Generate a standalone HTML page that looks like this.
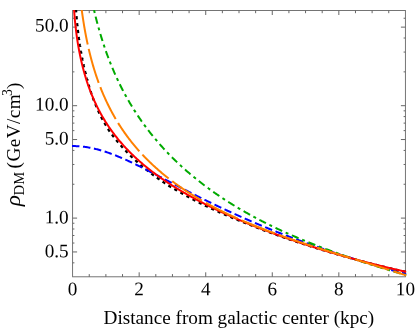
<!DOCTYPE html>
<html><head><meta charset="utf-8"><title>DM density profiles</title>
<style>
html,body{margin:0;padding:0;background:#fff;}
body{width:415px;height:329px;overflow:hidden;font-family:"Liberation Serif",serif;}
svg{display:block;will-change:transform;}
svg text{font-family:"Liberation Serif",serif;fill:#000;}
</style></head><body>
<svg width="415" height="329" viewBox="0 0 415 329">
<rect width="415" height="329" fill="#ffffff"/>
<defs><clipPath id="c"><rect x="72.00" y="10.00" width="334.50" height="267.30"/></clipPath></defs>
<rect x="72.60" y="10.50" width="332.80" height="266.30" fill="none" stroke="#666666" stroke-width="0.9"/>
<g stroke="#666666" stroke-width="1" fill="none">
<line x1="89.24" y1="276.80" x2="89.24" y2="274.10"/>
<line x1="89.24" y1="10.50" x2="89.24" y2="13.20"/>
<line x1="105.88" y1="276.80" x2="105.88" y2="274.10"/>
<line x1="105.88" y1="10.50" x2="105.88" y2="13.20"/>
<line x1="122.52" y1="276.80" x2="122.52" y2="274.10"/>
<line x1="122.52" y1="10.50" x2="122.52" y2="13.20"/>
<line x1="139.16" y1="276.80" x2="139.16" y2="272.30"/>
<line x1="139.16" y1="10.50" x2="139.16" y2="15.00"/>
<line x1="155.80" y1="276.80" x2="155.80" y2="274.10"/>
<line x1="155.80" y1="10.50" x2="155.80" y2="13.20"/>
<line x1="172.44" y1="276.80" x2="172.44" y2="274.10"/>
<line x1="172.44" y1="10.50" x2="172.44" y2="13.20"/>
<line x1="189.08" y1="276.80" x2="189.08" y2="274.10"/>
<line x1="189.08" y1="10.50" x2="189.08" y2="13.20"/>
<line x1="205.72" y1="276.80" x2="205.72" y2="272.30"/>
<line x1="205.72" y1="10.50" x2="205.72" y2="15.00"/>
<line x1="222.36" y1="276.80" x2="222.36" y2="274.10"/>
<line x1="222.36" y1="10.50" x2="222.36" y2="13.20"/>
<line x1="239.00" y1="276.80" x2="239.00" y2="274.10"/>
<line x1="239.00" y1="10.50" x2="239.00" y2="13.20"/>
<line x1="255.64" y1="276.80" x2="255.64" y2="274.10"/>
<line x1="255.64" y1="10.50" x2="255.64" y2="13.20"/>
<line x1="272.28" y1="276.80" x2="272.28" y2="272.30"/>
<line x1="272.28" y1="10.50" x2="272.28" y2="15.00"/>
<line x1="288.92" y1="276.80" x2="288.92" y2="274.10"/>
<line x1="288.92" y1="10.50" x2="288.92" y2="13.20"/>
<line x1="305.56" y1="276.80" x2="305.56" y2="274.10"/>
<line x1="305.56" y1="10.50" x2="305.56" y2="13.20"/>
<line x1="322.20" y1="276.80" x2="322.20" y2="274.10"/>
<line x1="322.20" y1="10.50" x2="322.20" y2="13.20"/>
<line x1="338.84" y1="276.80" x2="338.84" y2="272.30"/>
<line x1="338.84" y1="10.50" x2="338.84" y2="15.00"/>
<line x1="355.48" y1="276.80" x2="355.48" y2="274.10"/>
<line x1="355.48" y1="10.50" x2="355.48" y2="13.20"/>
<line x1="372.12" y1="276.80" x2="372.12" y2="274.10"/>
<line x1="372.12" y1="10.50" x2="372.12" y2="13.20"/>
<line x1="388.76" y1="276.80" x2="388.76" y2="274.10"/>
<line x1="388.76" y1="10.50" x2="388.76" y2="13.20"/>
<line x1="72.60" y1="251.94" x2="77.10" y2="251.94"/>
<line x1="405.40" y1="251.94" x2="400.90" y2="251.94"/>
<line x1="72.60" y1="218.10" x2="77.10" y2="218.10"/>
<line x1="405.40" y1="218.10" x2="400.90" y2="218.10"/>
<line x1="72.60" y1="139.54" x2="77.10" y2="139.54"/>
<line x1="405.40" y1="139.54" x2="400.90" y2="139.54"/>
<line x1="72.60" y1="105.70" x2="77.10" y2="105.70"/>
<line x1="405.40" y1="105.70" x2="400.90" y2="105.70"/>
<line x1="72.60" y1="27.14" x2="77.10" y2="27.14"/>
<line x1="405.40" y1="27.14" x2="400.90" y2="27.14"/>
<line x1="72.60" y1="262.83" x2="74.40" y2="262.83"/>
<line x1="405.40" y1="262.83" x2="403.60" y2="262.83"/>
<line x1="72.60" y1="243.04" x2="74.40" y2="243.04"/>
<line x1="405.40" y1="243.04" x2="403.60" y2="243.04"/>
<line x1="72.60" y1="235.51" x2="74.40" y2="235.51"/>
<line x1="405.40" y1="235.51" x2="403.60" y2="235.51"/>
<line x1="72.60" y1="228.99" x2="74.40" y2="228.99"/>
<line x1="405.40" y1="228.99" x2="403.60" y2="228.99"/>
<line x1="72.60" y1="223.24" x2="74.40" y2="223.24"/>
<line x1="405.40" y1="223.24" x2="403.60" y2="223.24"/>
<line x1="72.60" y1="184.26" x2="74.40" y2="184.26"/>
<line x1="405.40" y1="184.26" x2="403.60" y2="184.26"/>
<line x1="72.60" y1="164.47" x2="74.40" y2="164.47"/>
<line x1="405.40" y1="164.47" x2="403.60" y2="164.47"/>
<line x1="72.60" y1="150.43" x2="74.40" y2="150.43"/>
<line x1="405.40" y1="150.43" x2="403.60" y2="150.43"/>
<line x1="72.60" y1="130.64" x2="74.40" y2="130.64"/>
<line x1="405.40" y1="130.64" x2="403.60" y2="130.64"/>
<line x1="72.60" y1="123.11" x2="74.40" y2="123.11"/>
<line x1="405.40" y1="123.11" x2="403.60" y2="123.11"/>
<line x1="72.60" y1="116.59" x2="74.40" y2="116.59"/>
<line x1="405.40" y1="116.59" x2="403.60" y2="116.59"/>
<line x1="72.60" y1="110.84" x2="74.40" y2="110.84"/>
<line x1="405.40" y1="110.84" x2="403.60" y2="110.84"/>
<line x1="72.60" y1="71.86" x2="74.40" y2="71.86"/>
<line x1="405.40" y1="71.86" x2="403.60" y2="71.86"/>
<line x1="72.60" y1="52.07" x2="74.40" y2="52.07"/>
<line x1="405.40" y1="52.07" x2="403.60" y2="52.07"/>
<line x1="72.60" y1="38.03" x2="74.40" y2="38.03"/>
<line x1="405.40" y1="38.03" x2="403.60" y2="38.03"/>
<line x1="72.60" y1="18.24" x2="74.40" y2="18.24"/>
<line x1="405.40" y1="18.24" x2="403.60" y2="18.24"/>
</g>
<g clip-path="url(#c)" stroke-linecap="butt" stroke-linejoin="round">
<path d="M75.69,3.74 L75.73,4.45 L75.77,5.14 L75.81,5.82 L75.85,6.47 L75.89,7.12 L75.93,7.75 L75.97,8.36 L76.01,8.96 L76.05,9.55 L76.09,10.13 L76.13,10.69 L76.16,11.25 L76.20,11.79 L76.24,12.33 L76.28,12.86 L76.31,13.38 L76.35,13.88 L76.39,14.39 L76.42,14.88 L76.46,15.37 L76.50,15.84 L76.54,16.32 L76.57,16.78 L76.61,17.24 L76.65,17.70 L76.69,18.14 L76.72,18.58 L76.76,19.02 L76.80,19.45 L76.84,19.88 L76.87,20.30 L76.91,20.71 L76.95,21.12 L76.99,21.53 L77.03,21.93 L77.06,22.33 L77.10,22.72 L77.14,23.11 L77.18,23.49 L77.21,23.87 L77.25,24.25 L77.29,24.63 L77.33,25.00 L77.37,25.36 L77.40,25.73 L77.44,26.08 L77.48,26.44 L77.52,26.79 L77.56,27.15 L77.59,27.49 L77.63,27.84 L77.67,28.18 L77.71,28.52 L77.75,28.85 L77.78,29.19 L77.82,29.52 L77.86,29.84 L77.90,30.17 L77.94,30.49 L77.97,30.81 L78.01,31.13 L78.05,31.45 L78.09,31.76 L78.12,32.07 L78.16,32.38 L78.20,32.69 L78.24,32.99 L78.28,33.29 L78.31,33.59 L78.35,33.89 L78.39,34.19 L78.43,34.48 L78.46,34.77 L78.50,35.06 L78.54,35.35 L78.58,35.64 L78.62,35.93 L78.65,36.21 L78.69,36.49 L78.73,36.77 L78.77,37.05 L78.81,37.32 L78.84,37.60 L78.88,37.87 L78.92,38.14 L78.96,38.41 L79.00,38.68 L79.03,38.95 L79.07,39.21 L79.11,39.48 L79.15,39.74 L79.19,40.00 L79.22,40.26 L79.26,40.52 L79.30,40.77 L79.34,41.03 L79.38,41.28 L79.41,41.54 L79.45,41.79 L79.49,42.04 L79.53,42.29 L79.57,42.53 L79.60,42.78 L79.64,43.02 L79.68,43.27 L79.72,43.51 L79.76,43.75 L79.79,43.99 L79.83,44.23 L79.87,44.47 L79.91,44.71 L79.94,44.94 L79.98,45.18 L80.01,45.41 L80.05,45.64 L80.08,45.88 L80.12,46.11 L80.16,46.34 L80.19,46.56 L80.23,46.79 L80.26,47.02 L80.30,47.24 L80.33,47.47 L80.37,47.69 L80.40,47.91 L80.44,48.14 L80.47,48.36 L80.51,48.58 L80.54,48.79 L80.58,49.01 L80.62,49.23 L80.65,49.45 L80.69,49.66 L80.72,49.87 L80.76,50.09 L80.79,50.30 L80.83,50.51 L80.86,50.72 L80.90,50.93 L80.94,51.14 L80.97,51.35 L81.01,51.56 L81.04,51.76 L81.08,51.97 L81.11,52.18 L81.15,52.38 L81.19,52.58 L81.22,52.79 L81.26,52.99 L81.29,53.19 L81.33,53.39 L81.36,53.59 L81.40,53.79 L81.44,53.99 L81.47,54.18 L81.51,54.38 L81.54,54.58 L81.58,54.77 L81.62,54.97 L81.65,55.16 L81.69,55.35 L81.72,55.55 L81.76,55.74 L81.80,55.93 L81.83,56.12 L81.87,56.31 L81.90,56.50 L81.94,56.69 L81.98,56.87 L82.01,57.06 L82.05,57.25 L82.08,57.43 L82.12,57.62 L82.16,57.80 L82.19,57.99 L82.23,58.17 L82.26,58.35 L82.30,58.54 L82.34,58.72 L82.37,58.90 L82.41,59.08 L82.45,59.26 L82.48,59.44 L82.52,59.62 L82.55,59.79 L82.59,59.97 L82.62,60.15 L82.66,60.33 L82.70,60.50 L82.73,60.68 L82.77,60.85 L82.80,61.03 L82.84,61.20 L82.87,61.37 L82.91,61.55 L82.94,61.72 L82.98,61.89 L83.02,62.06 L83.05,62.23 L83.09,62.40 L83.12,62.57 L83.16,62.74 L83.19,62.91 L83.23,63.08 L83.27,63.24 L83.30,63.41 L83.34,63.58 L83.37,63.74 L83.41,63.91 L83.44,64.08 L83.48,64.24 L83.52,64.40 L83.55,64.57 L83.59,64.73 L83.62,64.89 L83.66,65.06 L83.69,65.22 L83.73,65.38 L83.77,65.54 L83.80,65.70 L83.84,65.86 L83.87,66.02 L83.91,66.18 L83.95,66.34 L83.98,66.50 L84.02,66.65 L84.05,66.81 L84.09,66.97 L84.13,67.12 L84.16,67.28 L84.20,67.44 L84.23,67.59 L84.27,67.75 L84.31,67.90 L84.34,68.05 L84.38,68.21 L84.41,68.36 L84.45,68.51 L84.49,68.67 L84.52,68.82 L84.56,68.97 L84.59,69.12 L84.63,69.27 L84.67,69.42 L84.70,69.57 L84.74,69.72 L84.77,69.87 L84.81,70.02 L84.85,70.17 L84.88,70.32 L84.92,70.46 L84.96,70.61 L84.99,70.76 L85.03,70.91 L85.06,71.05 L85.10,71.20 L85.14,71.34 L85.17,71.49 L85.21,71.63 L85.24,71.78 L85.28,71.92 L85.31,72.07 L85.35,72.21 L85.38,72.35 L85.42,72.50 L85.45,72.64 L85.49,72.78 L85.52,72.92 L85.56,73.07 L85.59,73.21 L85.63,73.35 L85.66,73.49 L85.70,73.63 L85.73,73.77 L85.76,73.91 L85.80,74.05 L85.83,74.19 L85.87,74.33 L85.90,74.47 L85.94,74.60 L85.97,74.74 L86.01,74.88 L86.04,75.02 L86.08,75.15 L86.11,75.29 L86.15,75.43 L86.18,75.56 L86.22,75.70 L86.25,75.83 L86.29,75.97 L86.32,76.10 L86.36,76.24 L86.39,76.37 L86.43,76.50 L86.46,76.64 L86.50,76.77 L86.53,76.90 L86.57,77.04 L86.60,77.17 L86.64,77.30 L86.67,77.43 L86.71,77.56 L86.74,77.70 L86.78,77.83 L86.81,77.96 L86.85,78.09 L86.88,78.22 L86.92,78.35 L86.95,78.48 L86.99,78.61 L87.03,78.73 L87.06,78.86 L87.10,78.99 L87.13,79.12 L87.17,79.25 L87.20,79.38 L87.24,79.50 L87.27,79.63 L87.31,79.76 L87.34,79.88 L87.37,80.01 L87.40,80.14 L87.44,80.26 L87.47,80.39 L87.50,80.52 L87.54,80.64 L87.57,80.77 L87.60,80.89 L87.63,81.02 L87.67,81.14 L87.70,81.27 L87.73,81.39 L87.77,81.52 L87.80,81.64 L87.83,81.76 L87.86,81.89 L87.90,82.01 L87.93,82.13 L87.96,82.26 L88.00,82.38 L88.03,82.50 L88.06,82.62 L88.10,82.74 L88.13,82.86 L88.16,82.99 L88.19,83.11 L88.23,83.23 L88.26,83.35 L88.29,83.47 L88.33,83.59 L88.36,83.71 L88.39,83.83 L88.43,83.95 L88.46,84.07 L88.49,84.18 L88.53,84.30 L88.56,84.42 L88.59,84.54 L88.63,84.66 L88.66,84.78 L88.69,84.89 L88.73,85.01 L88.76,85.13 L88.79,85.24 L88.83,85.36 L88.86,85.48 L88.89,85.59 L88.93,85.71 L88.96,85.83 L88.99,85.94 L89.03,86.06 L89.06,86.17 L89.09,86.29 L89.13,86.40 L89.16,86.52 L89.19,86.63 L89.23,86.74 L89.26,86.86 L89.30,86.97 L89.33,87.09 L89.36,87.20 L89.40,87.31 L89.43,87.42 L89.46,87.54 L89.50,87.65 L89.53,87.76 L89.56,87.87 L89.60,87.99 L89.63,88.10 L89.67,88.21 L89.70,88.32 L89.73,88.43 L89.77,88.54 L89.80,88.65 L89.83,88.76 L89.87,88.87 L89.90,88.98 L89.94,89.09 L89.97,89.20 L90.00,89.31 L90.04,89.42 L90.07,89.53 L90.10,89.64 L90.14,89.75 L90.17,89.86 L90.21,89.97 L90.24,90.08 L90.27,90.18 L90.31,90.29 L90.34,90.40 L90.38,90.51 L90.41,90.61 L90.44,90.72 L90.48,90.83 L90.51,90.94 L90.55,91.04 L90.58,91.15 L90.62,91.25 L90.65,91.36 L90.68,91.47 L90.72,91.57 L90.75,91.68 L90.79,91.78 L90.82,91.89 L90.85,91.99 L90.89,92.10 L90.92,92.20 L90.96,92.31 L90.99,92.41 L91.03,92.52 L91.06,92.62 L91.09,92.72 L91.13,92.83 L91.16,92.93 L91.20,93.03 L91.23,93.14 L91.27,93.24 L91.30,93.34 L91.33,93.45 L91.37,93.55 L91.40,93.65 L91.44,93.75 L91.47,93.86 L91.51,93.96 L91.54,94.06 L91.58,94.16 L91.61,94.26 L91.64,94.36 L91.68,94.47 L91.71,94.57 L91.75,94.67 L91.78,94.77 L91.82,94.87 L91.85,94.97 L91.89,95.07 L91.92,95.17 L91.96,95.27 L91.99,95.37 L92.02,95.47 L92.06,95.57 L92.09,95.67 L92.13,95.77 L92.16,95.86 L92.20,95.96 L92.23,96.06 L92.27,96.16 L92.30,96.26 L92.34,96.36 L92.37,96.45 L92.41,96.55 L92.44,96.65 L92.47,96.75 L93.02,98.27 L93.57,99.75 L94.12,101.20 L94.68,102.61 L95.24,104.00 L95.80,105.36 L96.36,106.70 L96.92,108.00 L97.49,109.28 L98.05,110.54 L98.62,111.78 L99.19,112.99 L99.77,114.18 L100.34,115.35 L100.92,116.50 L101.49,117.63 L102.07,118.75 L102.65,119.84 L103.23,120.92 L103.82,121.98 L104.42,123.02 L105.01,124.04 L105.61,125.05 L106.20,126.05 L106.80,127.03 L107.39,128.00 L107.99,128.95 L108.59,129.89 L109.19,130.82 L109.81,131.72 L110.45,132.60 L111.08,133.47 L111.71,134.33 L112.35,135.18 L112.98,136.01 L113.62,136.84 L114.25,137.65 L114.89,138.46 L115.52,139.25 L116.16,140.04 L116.79,140.82 L117.42,141.58 L118.06,142.34 L118.69,143.09 L119.33,143.84 L119.96,144.57 L120.60,145.30 L121.23,146.01 L121.87,146.73 L122.50,147.43 L123.13,148.13 L123.77,148.82 L124.40,149.50 L125.04,150.17 L125.67,150.84 L126.31,151.51 L126.94,152.16 L127.57,152.81 L128.21,153.46 L128.84,154.09 L129.48,154.73 L130.11,155.35 L130.74,155.97 L131.38,156.59 L132.01,157.20 L132.65,157.80 L133.28,158.40 L133.92,159.00 L134.55,159.59 L135.18,160.17 L135.82,160.75 L136.45,161.32 L137.08,161.89 L137.72,162.46 L138.35,163.02 L138.99,163.58 L139.62,164.13 L140.26,164.67 L140.89,165.22 L141.53,165.76 L142.16,166.29 L142.80,166.82 L143.43,167.35 L144.07,167.87 L144.70,168.39 L145.33,168.90 L145.97,169.41 L146.60,169.92 L147.24,170.43 L147.87,170.93 L148.51,171.42 L149.14,171.92 L149.78,172.41 L150.41,172.90 L151.04,173.38 L151.68,173.86 L152.31,174.34 L152.95,174.81 L153.58,175.29 L154.21,175.75 L154.85,176.22 L155.48,176.68 L156.12,177.14 L156.75,177.60 L157.38,178.05 L158.02,178.51 L158.65,178.95 L159.28,179.40 L159.92,179.84 L160.55,180.29 L161.19,180.72 L161.82,181.16 L162.45,181.59 L163.09,182.02 L163.72,182.45 L164.35,182.88 L164.99,183.30 L165.62,183.72 L166.25,184.14 L166.89,184.56 L167.52,184.98 L168.15,185.39 L168.79,185.80 L169.43,186.19 L170.08,186.57 L170.72,186.95 L171.37,187.33 L172.02,187.71 L172.66,188.09 L173.31,188.46 L173.95,188.84 L174.60,189.21 L175.25,189.57 L175.89,189.94 L176.54,190.30 L177.18,190.67 L177.83,191.03 L178.47,191.39 L179.12,191.74 L179.75,192.11 L180.39,192.48 L181.02,192.85 L181.66,193.22 L182.29,193.58 L182.93,193.94 L183.56,194.30 L184.20,194.66 L184.83,195.02 L185.47,195.38 L186.10,195.73 L186.73,196.08 L187.37,196.43 L188.00,196.78 L188.64,197.13 L189.27,197.48 L189.91,197.82 L190.54,198.17 L191.18,198.51 L191.81,198.85 L192.44,199.19 L193.08,199.53 L193.71,199.86 L194.35,200.20 L194.98,200.53 L195.62,200.87 L196.25,201.20 L196.88,201.53 L197.52,201.85 L198.15,202.18 L198.79,202.51 L199.42,202.83 L200.06,203.15 L200.69,203.46 L201.33,203.78 L201.97,204.09 L202.60,204.40 L203.24,204.72 L203.88,205.03 L204.51,205.33 L205.15,205.64 L205.79,205.95 L206.42,206.25 L207.06,206.56 L207.70,206.86 L208.33,207.16 L208.97,207.46 L209.60,207.76 L210.24,208.06 L210.88,208.36 L211.51,208.65 L212.15,208.95 L212.78,209.24 L213.42,209.54 L214.06,209.83 L214.69,210.12 L215.33,210.41 L215.96,210.70 L216.60,210.98 L217.23,211.27 L217.87,211.56 L218.51,211.84 L219.14,212.13 L219.78,212.41 L220.41,212.69 L221.05,212.97 L221.68,213.25 L222.32,213.53 L222.95,213.81 L223.59,214.09 L224.22,214.36 L224.86,214.64 L225.49,214.91 L226.13,215.19 L226.76,215.46 L227.40,215.73 L228.03,216.00 L228.67,216.27 L229.30,216.54 L229.94,216.81 L230.57,217.08 L231.20,217.35 L231.84,217.62 L232.47,217.89 L233.10,218.16 L233.74,218.42 L234.37,218.69 L235.00,218.95 L235.64,219.22 L236.27,219.48 L236.90,219.75 L237.54,220.01 L238.17,220.27 L238.80,220.53 L239.43,220.79 L240.07,221.05 L240.70,221.31 L241.33,221.56 L241.97,221.82 L242.60,222.08 L243.23,222.33 L243.86,222.59 L244.50,222.84 L245.13,223.09 L245.76,223.34 L246.40,223.60 L247.03,223.85 L247.66,224.10 L248.29,224.35 L248.93,224.59 L249.56,224.84 L250.19,225.09 L250.82,225.34 L251.46,225.58 L252.09,225.83 L252.72,226.07 L253.35,226.32 L253.99,226.56 L254.62,226.80 L255.25,227.04 L255.88,227.28 L256.52,227.52 L257.15,227.76 L257.78,228.00 L258.41,228.24 L259.05,228.48 L259.68,228.72 L260.31,228.96 L260.94,229.20 L261.57,229.44 L262.20,229.67 L262.83,229.91 L263.46,230.15 L264.09,230.39 L264.72,230.62 L265.36,230.86 L265.99,231.09 L266.62,231.33 L267.25,231.56 L267.88,231.80 L268.51,232.03 L269.14,232.26 L269.77,232.49 L270.40,232.72 L271.03,232.95 L271.66,233.18 L272.29,233.41 L272.92,233.64 L273.55,233.87 L274.18,234.10 L274.81,234.32 L275.45,234.55 L276.08,234.77 L276.71,235.00 L277.34,235.22 L277.97,235.45 L278.60,235.67 L279.23,235.90 L279.86,236.12 L280.49,236.34 L281.12,236.56 L281.75,236.78 L282.38,237.00 L283.01,237.22 L283.64,237.44 L284.27,237.66 L284.90,237.88 L285.53,238.09 L286.16,238.31 L286.79,238.53 L287.42,238.74 L288.06,238.96 L288.69,239.17 L289.32,239.39 L289.95,239.60 L290.58,239.82 L291.21,240.03 L291.84,240.24 L292.47,240.45 L293.10,240.66 L293.73,240.88 L294.36,241.09 L294.99,241.30 L295.62,241.51 L296.25,241.71 L296.88,241.92 L297.51,242.13 L298.14,242.34 L298.77,242.54 L299.40,242.75 L300.03,242.96 L300.66,243.16 L301.29,243.37 L301.92,243.58 L302.55,243.78 L303.18,243.99 L303.81,244.19 L304.44,244.39 L305.07,244.60 L305.70,244.80 L306.33,245.00 L306.96,245.21 L307.59,245.41 L308.22,245.61 L308.85,245.81 L309.48,246.01 L310.11,246.21 L310.74,246.41 L311.37,246.61 L312.00,246.81 L312.63,247.00 L313.26,247.20 L313.89,247.40 L314.52,247.59 L315.15,247.79 L315.78,247.99 L316.41,248.18 L317.04,248.38 L317.67,248.57 L318.30,248.76 L318.93,248.96 L319.56,249.15 L320.19,249.34 L320.81,249.53 L321.44,249.73 L322.07,249.92 L322.70,250.11 L323.33,250.30 L323.96,250.49 L324.59,250.68 L325.22,250.86 L325.85,251.05 L326.48,251.24 L327.11,251.43 L327.74,251.62 L328.37,251.80 L329.00,251.99 L329.63,252.17 L330.26,252.36 L330.89,252.54 L331.52,252.73 L332.15,252.91 L332.78,253.10 L333.41,253.28 L334.04,253.46 L334.67,253.65 L335.30,253.83 L335.93,254.01 L336.56,254.19 L337.19,254.37 L337.82,254.55 L338.45,254.73 L339.08,254.91 L339.71,255.09 L340.33,255.27 L340.96,255.45 L341.59,255.63 L342.22,255.81 L342.85,255.99 L343.48,256.17 L344.11,256.34 L344.74,256.52 L345.37,256.70 L346.00,256.88 L346.62,257.05 L347.25,257.23 L347.88,257.40 L348.51,257.58 L349.14,257.75 L349.77,257.93 L350.40,258.10 L351.03,258.28 L351.66,258.45 L352.28,258.62 L352.91,258.80 L353.54,258.97 L354.17,259.14 L354.80,259.31 L355.43,259.48 L356.06,259.65 L356.69,259.82 L357.32,259.99 L357.95,260.16 L358.57,260.33 L359.20,260.50 L359.83,260.66 L360.46,260.83 L361.09,261.00 L361.72,261.17 L362.35,261.33 L362.98,261.50 L363.61,261.66 L364.24,261.83 L364.86,261.99 L365.49,262.16 L366.12,262.32 L366.75,262.48 L367.38,262.65 L368.01,262.81 L368.64,262.97 L369.27,263.13 L369.90,263.30 L370.53,263.46 L371.15,263.62 L371.78,263.78 L372.41,263.94 L373.04,264.10 L373.67,264.26 L374.30,264.41 L374.93,264.57 L375.56,264.73 L376.19,264.89 L376.82,265.04 L377.44,265.20 L378.07,265.36 L378.70,265.51 L379.33,265.67 L379.96,265.82 L380.59,265.98 L381.22,266.13 L381.85,266.29 L382.48,266.44 L383.10,266.59 L383.73,266.75 L384.36,266.90 L384.99,267.05 L385.62,267.20 L386.25,267.35 L386.88,267.50 L387.51,267.65 L388.14,267.80 L388.77,267.95 L389.39,268.10 L390.02,268.25 L390.65,268.40 L391.28,268.54 L391.91,268.69 L392.54,268.84 L393.17,268.99 L393.80,269.13 L394.43,269.28 L395.06,269.42 L395.68,269.57 L396.31,269.71 L396.94,269.86 L397.57,270.00 L398.20,270.14 L398.83,270.29 L399.46,270.43 L400.09,270.57 L400.72,270.71 L401.35,270.85 L401.97,270.99 L402.60,271.14 L403.23,271.28 L403.86,271.42 L404.49,271.55 L405.12,271.69 L405.75,271.83 L406.38,271.97" fill="none" stroke="#000000" stroke-width="2.2" stroke-dasharray="3.2 3.75" stroke-dashoffset="1.47"/>
<path d="M71.93,146.07 L72.77,146.07 L73.61,146.07 L74.45,146.09 L75.29,146.11 L76.13,146.14 L76.96,146.18 L77.80,146.22 L78.64,146.28 L79.48,146.34 L80.32,146.41 L81.16,146.48 L81.99,146.57 L82.83,146.66 L83.67,146.76 L84.51,146.86 L85.35,146.98 L86.18,147.10 L87.02,147.23 L87.86,147.36 L88.70,147.51 L89.54,147.66 L90.38,147.82 L91.21,147.98 L92.05,148.15 L92.89,148.33 L93.73,148.52 L94.57,148.71 L95.41,148.91 L96.24,149.11 L97.08,149.32 L97.92,149.54 L98.76,149.77 L99.60,150.00 L100.44,150.23 L101.27,150.48 L102.11,150.73 L102.95,150.98 L103.79,151.24 L104.63,151.51 L105.46,151.78 L106.30,152.06 L107.14,152.34 L107.98,152.63 L108.82,152.92 L109.66,153.22 L110.49,153.52 L111.33,153.83 L112.17,154.14 L113.01,154.46 L113.85,154.78 L114.69,155.10 L115.52,155.43 L116.36,155.77 L117.20,156.11 L118.04,156.45 L118.88,156.80 L119.71,157.15 L120.55,157.50 L121.39,157.86 L122.23,158.22 L123.07,158.59 L123.91,158.95 L124.74,159.32 L125.58,159.70 L126.42,160.08 L127.26,160.46 L128.10,160.84 L128.94,161.23 L129.77,161.62 L130.61,162.01 L131.45,162.40 L132.29,162.80 L133.13,163.20 L133.97,163.60 L134.80,164.00 L135.64,164.41 L136.48,164.82 L137.32,165.23 L138.16,165.64 L138.99,166.05 L139.83,166.46 L140.67,166.88 L141.51,167.30 L142.35,167.72 L143.19,168.14 L144.02,168.56 L144.86,168.99 L145.70,169.41 L146.54,169.84 L147.38,170.27 L148.22,170.69 L149.05,171.12 L149.89,171.55 L150.73,171.99 L151.57,172.42 L152.41,172.85 L153.25,173.28 L154.08,173.72 L154.92,174.15 L155.76,174.59 L156.60,175.03 L157.44,175.46 L158.27,175.90 L159.11,176.34 L159.95,176.77 L160.79,177.21 L161.63,177.65 L162.47,178.09 L163.30,178.53 L164.14,178.97 L164.98,179.41 L165.82,179.84 L166.66,180.28 L167.50,180.72 L168.33,181.16 L169.17,181.60 L170.01,182.04 L170.85,182.48 L171.69,182.92 L172.53,183.35 L173.36,183.79 L174.20,184.23 L175.04,184.67 L175.88,185.10 L176.72,185.54 L177.55,185.98 L178.39,186.41 L179.23,186.85 L180.07,187.28 L180.91,187.72 L181.75,188.15 L182.58,188.59 L183.42,189.02 L184.26,189.45 L185.10,189.88 L185.94,190.31 L186.78,190.74 L187.61,191.17 L188.45,191.60 L189.29,192.03 L190.13,192.46 L190.97,192.89 L191.80,193.32 L192.64,193.74 L193.48,194.17 L194.32,194.59 L195.16,195.02 L196.00,195.44 L196.83,195.86 L197.67,196.28 L198.51,196.70 L199.35,197.12 L200.19,197.54 L201.03,197.96 L201.86,198.38 L202.70,198.79 L203.54,199.21 L204.38,199.62 L205.22,200.04 L206.06,200.45 L206.89,200.86 L207.73,201.28 L208.57,201.69 L209.41,202.10 L210.25,202.50 L211.08,202.91 L211.92,203.32 L212.76,203.72 L213.60,204.13 L214.44,204.53 L215.28,204.94 L216.11,205.34 L216.95,205.74 L217.79,206.14 L218.63,206.54 L219.47,206.94 L220.31,207.33 L221.14,207.73 L221.98,208.13 L222.82,208.52 L223.66,208.91 L224.50,209.31 L225.34,209.70 L226.17,210.09 L227.01,210.48 L227.85,210.87 L228.69,211.25 L229.53,211.64 L230.36,212.03 L231.20,212.41 L232.04,212.79 L232.88,213.18 L233.72,213.56 L234.56,213.94 L235.39,214.32 L236.23,214.70 L237.07,215.07 L237.91,215.45 L238.75,215.83 L239.59,216.20 L240.42,216.57 L241.26,216.95 L242.10,217.32 L242.94,217.69 L243.78,218.06 L244.62,218.43 L245.45,218.80 L246.29,219.16 L247.13,219.53 L247.97,219.89 L248.81,220.26 L249.64,220.62 L250.48,220.98 L251.32,221.34 L252.16,221.70 L253.00,222.06 L253.84,222.42 L254.67,222.78 L255.51,223.13 L256.35,223.49 L257.19,223.84 L258.03,224.19 L258.87,224.55 L259.70,224.90 L260.54,225.25 L261.38,225.60 L262.22,225.94 L263.06,226.29 L263.89,226.64 L264.73,226.98 L265.57,227.33 L266.41,227.67 L267.25,228.01 L268.09,228.36 L268.92,228.70 L269.76,229.04 L270.60,229.38 L271.44,229.71 L272.28,230.05 L273.12,230.39 L273.95,230.72 L274.79,231.06 L275.63,231.39 L276.47,231.72 L277.31,232.06 L278.15,232.39 L278.98,232.72 L279.82,233.05 L280.66,233.37 L281.50,233.70 L282.34,234.03 L283.17,234.35 L284.01,234.68 L284.85,235.00 L285.69,235.32 L286.53,235.65 L287.37,235.97 L288.20,236.29 L289.04,236.61 L289.88,236.92 L290.72,237.24 L291.56,237.56 L292.40,237.87 L293.23,238.19 L294.07,238.50 L294.91,238.82 L295.75,239.13 L296.59,239.44 L297.43,239.75 L298.26,240.06 L299.10,240.37 L299.94,240.68 L300.78,240.99 L301.62,241.30 L302.45,241.60 L303.29,241.91 L304.13,242.21 L304.97,242.51 L305.81,242.82 L306.65,243.12 L307.48,243.42 L308.32,243.72 L309.16,244.02 L310.00,244.32 L310.84,244.62 L311.68,244.91 L312.51,245.21 L313.35,245.51 L314.19,245.80 L315.03,246.10 L315.87,246.39 L316.71,246.68 L317.54,246.97 L318.38,247.26 L319.22,247.55 L320.06,247.84 L320.90,248.13 L321.73,248.42 L322.57,248.71 L323.41,248.99 L324.25,249.28 L325.09,249.57 L325.93,249.85 L326.76,250.13 L327.60,250.42 L328.44,250.70 L329.28,250.98 L330.12,251.26 L330.96,251.54 L331.79,251.82 L332.63,252.10 L333.47,252.38 L334.31,252.65 L335.15,252.93 L335.98,253.21 L336.82,253.48 L337.66,253.76 L338.50,254.03 L339.34,254.30 L340.18,254.58 L341.01,254.85 L341.85,255.12 L342.69,255.39 L343.53,255.66 L344.37,255.93 L345.21,256.20 L346.04,256.46 L346.88,256.73 L347.72,257.00 L348.56,257.26 L349.40,257.53 L350.24,257.79 L351.07,258.06 L351.91,258.32 L352.75,258.58 L353.59,258.84 L354.43,259.10 L355.26,259.36 L356.10,259.62 L356.94,259.88 L357.78,260.14 L358.62,260.40 L359.46,260.66 L360.29,260.91 L361.13,261.17 L361.97,261.43 L362.81,261.68 L363.65,261.93 L364.49,262.19 L365.32,262.44 L366.16,262.69 L367.00,262.95 L367.84,263.20 L368.68,263.45 L369.52,263.70 L370.35,263.95 L371.19,264.20 L372.03,264.44 L372.87,264.69 L373.71,264.94 L374.54,265.19 L375.38,265.43 L376.22,265.68 L377.06,265.92 L377.90,266.17 L378.74,266.41 L379.57,266.65 L380.41,266.90 L381.25,267.14 L382.09,267.38 L382.93,267.62 L383.77,267.86 L384.60,268.10 L385.44,268.34 L386.28,268.58 L387.12,268.82 L387.96,269.05 L388.80,269.29 L389.63,269.53 L390.47,269.76 L391.31,270.00 L392.15,270.23 L392.99,270.47 L393.82,270.70 L394.66,270.93 L395.50,271.17 L396.34,271.40 L397.18,271.63 L398.02,271.86 L398.85,272.09 L399.69,272.32 L400.53,272.55 L401.37,272.78 L402.21,273.01 L403.05,273.24 L403.88,273.46 L404.72,273.69 L405.56,273.92 L406.40,274.14" fill="none" stroke="#0000ff" stroke-width="2" stroke-dasharray="7.5 3.6" stroke-dashoffset="0.01"/>
<path d="M92.57,3.44 L93.20,6.30 L93.83,9.08 L94.45,11.78 L95.08,14.41 L95.71,16.97 L96.34,19.46 L96.97,21.89 L97.60,24.26 L98.23,26.58 L98.86,28.84 L99.49,31.05 L100.12,33.21 L100.74,35.32 L101.37,37.39 L102.00,39.42 L102.63,41.41 L103.26,43.35 L103.89,45.26 L104.52,47.13 L105.15,48.97 L105.78,50.78 L106.40,52.55 L107.03,54.29 L107.66,56.00 L108.29,57.68 L108.92,59.34 L109.55,60.97 L110.18,62.57 L110.81,64.15 L111.44,65.70 L112.06,67.23 L112.69,68.73 L113.32,70.21 L113.95,71.68 L114.58,73.12 L115.21,74.54 L115.84,75.94 L116.47,77.32 L117.10,78.68 L117.72,80.03 L118.35,81.35 L118.98,82.67 L119.61,83.96 L120.24,85.24 L120.87,86.50 L121.50,87.74 L122.13,88.97 L122.76,90.19 L123.39,91.39 L124.01,92.58 L124.64,93.75 L125.27,94.92 L125.90,96.06 L126.53,97.20 L127.16,98.32 L127.79,99.43 L128.42,100.53 L129.05,101.62 L129.67,102.69 L130.30,103.76 L130.93,104.81 L131.56,105.85 L132.19,106.89 L132.82,107.91 L133.45,108.92 L134.08,109.92 L134.71,110.91 L135.33,111.90 L135.96,112.87 L136.59,113.84 L137.22,114.79 L137.85,115.74 L138.48,116.68 L139.11,117.61 L139.74,118.53 L140.37,119.44 L140.99,120.35 L141.62,121.24 L142.25,122.13 L142.88,123.01 L143.51,123.89 L144.14,124.76 L144.77,125.62 L145.40,126.47 L146.03,127.31 L146.66,128.15 L147.28,128.99 L147.91,129.81 L148.54,130.63 L149.17,131.44 L149.80,132.25 L150.43,133.05 L151.06,133.84 L151.69,134.63 L152.32,135.41 L152.94,136.19 L153.57,136.96 L154.20,137.72 L154.83,138.48 L155.46,139.23 L156.09,139.98 L156.72,140.72 L157.35,141.46 L157.98,142.19 L158.60,142.92 L159.23,143.64 L159.86,144.36 L160.49,145.07 L161.12,145.77 L161.75,146.47 L162.38,147.17 L163.01,147.86 L163.64,148.55 L164.26,149.23 L164.89,149.91 L165.52,150.59 L166.15,151.26 L166.78,151.92 L167.41,152.58 L168.04,153.24 L168.67,153.89 L169.30,154.54 L169.92,155.18 L170.55,155.82 L171.18,156.46 L171.81,157.09 L172.44,157.72 L173.07,158.34 L173.70,158.96 L174.33,159.58 L174.96,160.19 L175.59,160.80 L176.21,161.41 L176.84,162.01 L177.47,162.61 L178.10,163.21 L178.73,163.80 L179.36,164.38 L179.99,164.97 L180.62,165.55 L181.25,166.13 L181.87,166.70 L182.50,167.28 L183.13,167.84 L183.76,168.41 L184.39,168.97 L185.02,169.53 L185.65,170.08 L186.28,170.64 L186.91,171.19 L187.53,171.73 L188.16,172.28 L188.79,172.82 L189.42,173.35 L190.05,173.89 L190.68,174.42 L191.31,174.95 L191.94,175.48 L192.57,176.00 L193.19,176.52 L193.82,177.04 L194.45,177.55 L195.08,178.07 L195.71,178.58 L196.34,179.08 L196.97,179.59 L197.60,180.09 L198.23,180.59 L198.86,181.09 L199.48,181.58 L200.11,182.08 L200.74,182.57 L201.37,183.05 L202.00,183.54 L202.63,184.02 L203.26,184.50 L203.89,184.98 L204.52,185.45 L205.14,185.93 L205.77,186.40 L206.40,186.87 L207.03,187.33 L207.66,187.80 L208.29,188.26 L208.92,188.72 L209.55,189.18 L210.18,189.63 L210.80,190.08 L211.43,190.54 L212.06,190.98 L212.69,191.43 L213.32,191.88 L213.95,192.32 L214.58,192.76 L215.21,193.20 L215.84,193.64 L216.46,194.07 L217.09,194.50 L217.72,194.93 L218.35,195.36 L218.98,195.79 L219.61,196.22 L220.24,196.64 L220.87,197.06 L221.50,197.48 L222.13,197.90 L222.75,198.31 L223.38,198.73 L224.01,199.14 L224.64,199.55 L225.27,199.96 L225.90,200.37 L226.53,200.77 L227.16,201.17 L227.79,201.58 L228.41,201.98 L229.04,202.37 L229.67,202.77 L230.30,203.17 L230.93,203.56 L231.56,203.95 L232.19,204.34 L232.82,204.73 L233.45,205.12 L234.07,205.50 L234.70,205.88 L235.33,206.27 L235.96,206.65 L236.59,207.03 L237.22,207.40 L237.85,207.78 L238.48,208.15 L239.11,208.53 L239.73,208.90 L240.36,209.27 L240.99,209.64 L241.62,210.00 L242.25,210.37 L242.88,210.73 L243.51,211.09 L244.14,211.46 L244.77,211.82 L245.40,212.17 L246.02,212.53 L246.65,212.89 L247.28,213.24 L247.91,213.59 L248.54,213.94 L249.17,214.29 L249.80,214.64 L250.43,214.99 L251.06,215.34 L251.68,215.68 L252.31,216.02 L252.94,216.37 L253.57,216.71 L254.20,217.05 L254.83,217.38 L255.46,217.72 L256.09,218.06 L256.72,218.39 L257.34,218.73 L257.97,219.06 L258.60,219.39 L259.23,219.72 L259.86,220.05 L260.49,220.37 L261.12,220.70 L261.75,221.02 L262.38,221.35 L263.00,221.67 L263.63,221.99 L264.26,222.31 L264.89,222.63 L265.52,222.95 L266.15,223.27 L266.78,223.58 L267.41,223.90 L268.04,224.21 L268.67,224.52 L269.29,224.83 L269.92,225.14 L270.55,225.45 L271.18,225.76 L271.81,226.07 L272.44,226.37 L273.07,226.68 L273.70,226.98 L274.33,227.28 L274.95,227.58 L275.58,227.89 L276.21,228.19 L276.84,228.48 L277.47,228.78 L278.10,229.08 L278.73,229.37 L279.36,229.67 L279.99,229.96 L280.61,230.25 L281.24,230.55 L281.87,230.84 L282.50,231.13 L283.13,231.41 L283.76,231.70 L284.39,231.99 L285.02,232.28 L285.65,232.56 L286.27,232.84 L286.90,233.13 L287.53,233.41 L288.16,233.69 L288.79,233.97 L289.42,234.25 L290.05,234.53 L290.68,234.81 L291.31,235.08 L291.94,235.36 L292.56,235.63 L293.19,235.91 L293.82,236.18 L294.45,236.45 L295.08,236.73 L295.71,237.00 L296.34,237.27 L296.97,237.54 L297.60,237.80 L298.22,238.07 L298.85,238.34 L299.48,238.60 L300.11,238.87 L300.74,239.13 L301.37,239.40 L302.00,239.66 L302.63,239.92 L303.26,240.18 L303.88,240.44 L304.51,240.70 L305.14,240.96 L305.77,241.22 L306.40,241.48 L307.03,241.73 L307.66,241.99 L308.29,242.24 L308.92,242.50 L309.54,242.75 L310.17,243.00 L310.80,243.25 L311.43,243.51 L312.06,243.76 L312.69,244.01 L313.32,244.26 L313.95,244.50 L314.58,244.75 L315.21,245.00 L315.83,245.24 L316.46,245.49 L317.09,245.73 L317.72,245.98 L318.35,246.22 L318.98,246.47 L319.61,246.71 L320.24,246.95 L320.87,247.19 L321.49,247.43 L322.12,247.67 L322.75,247.91 L323.38,248.15 L324.01,248.38 L324.64,248.62 L325.27,248.86 L325.90,249.09 L326.53,249.33 L327.15,249.56 L327.78,249.79 L328.41,250.03 L329.04,250.26 L329.67,250.49 L330.30,250.72 L330.93,250.95 L331.56,251.18 L332.19,251.41 L332.81,251.64 L333.44,251.87 L334.07,252.10 L334.70,252.33 L335.33,252.55 L335.96,252.78 L336.59,253.00 L337.22,253.23 L337.85,253.45 L338.48,253.68 L339.10,253.90 L339.73,254.12 L340.36,254.34 L340.99,254.56 L341.62,254.79 L342.25,255.01 L342.88,255.23 L343.51,255.44 L344.14,255.66 L344.76,255.88 L345.39,256.10 L346.02,256.32 L346.65,256.53 L347.28,256.75 L347.91,256.96 L348.54,257.18 L349.17,257.39 L349.80,257.61 L350.42,257.82 L351.05,258.03 L351.68,258.25 L352.31,258.46 L352.94,258.67 L353.57,258.88 L354.20,259.09 L354.83,259.30 L355.46,259.51 L356.08,259.72 L356.71,259.93 L357.34,260.14 L357.97,260.35 L358.60,260.55 L359.23,260.76 L359.86,260.97 L360.49,261.17 L361.12,261.38 L361.75,261.58 L362.37,261.79 L363.00,261.99 L363.63,262.20 L364.26,262.40 L364.89,262.60 L365.52,262.81 L366.15,263.01 L366.78,263.21 L367.41,263.41 L368.03,263.61 L368.66,263.81 L369.29,264.01 L369.92,264.21 L370.55,264.41 L371.18,264.61 L371.81,264.81 L372.44,265.01 L373.07,265.20 L373.69,265.40 L374.32,265.60 L374.95,265.79 L375.58,265.99 L376.21,266.19 L376.84,266.38 L377.47,266.58 L378.10,266.77 L378.73,266.96 L379.35,267.16 L379.98,267.35 L380.61,267.54 L381.24,267.74 L381.87,267.93 L382.50,268.12 L383.13,268.31 L383.76,268.50 L384.39,268.69 L385.02,268.89 L385.64,269.08 L386.27,269.27 L386.90,269.46 L387.53,269.64 L388.16,269.83 L388.79,270.02 L389.42,270.21 L390.05,270.40 L390.68,270.59 L391.30,270.77 L391.93,270.96 L392.56,271.15 L393.19,271.33 L393.82,271.52 L394.45,271.70 L395.08,271.89 L395.71,272.07 L396.34,272.26 L396.96,272.44 L397.59,272.63 L398.22,272.81 L398.85,273.00 L399.48,273.18 L400.11,273.36 L400.74,273.55 L401.37,273.73 L402.00,273.91 L402.62,274.09 L403.25,274.27 L403.88,274.45 L404.51,274.64 L405.14,274.82 L405.77,275.00 L406.40,275.18" fill="none" stroke="#00aa00" stroke-width="2" stroke-dasharray="7.4 3.8 3 3.8" stroke-dashoffset="4.47"/>
<path d="M73.70,3.85 L73.74,4.56 L73.78,5.26 L73.82,5.94 L73.86,6.60 L73.90,7.24 L73.94,7.87 L73.98,8.49 L74.02,9.09 L74.06,9.69 L74.10,10.27 L74.14,10.83 L74.18,11.39 L74.22,11.94 L74.26,12.48 L74.30,13.01 L74.34,13.53 L74.38,14.04 L74.42,14.54 L74.46,15.04 L74.50,15.53 L74.54,16.01 L74.58,16.48 L74.62,16.95 L74.66,17.41 L74.70,17.87 L74.74,18.32 L74.78,18.76 L74.82,19.20 L74.86,19.63 L74.90,20.06 L74.94,20.48 L74.98,20.90 L75.02,21.31 L75.06,21.72 L75.10,22.12 L75.14,22.52 L75.18,22.92 L75.22,23.31 L75.26,23.69 L75.30,24.08 L75.34,24.45 L75.38,24.83 L75.42,25.20 L75.46,25.57 L75.50,25.94 L75.54,26.30 L75.58,26.65 L75.62,27.01 L75.66,27.36 L75.70,27.71 L75.74,28.06 L75.78,28.40 L75.82,28.74 L75.86,29.08 L75.90,29.41 L75.94,29.74 L75.98,30.07 L76.02,30.40 L76.06,30.72 L76.10,31.05 L76.14,31.37 L76.18,31.68 L76.22,32.00 L76.26,32.31 L76.30,32.62 L76.34,32.93 L76.38,33.23 L76.41,33.54 L76.45,33.84 L76.49,34.14 L76.53,34.44 L76.57,34.73 L76.61,35.03 L76.65,35.32 L76.69,35.61 L76.73,35.90 L76.77,36.18 L76.81,36.47 L76.85,36.75 L76.89,37.03 L76.93,37.31 L76.97,37.59 L77.01,37.86 L77.05,38.14 L77.09,38.41 L77.13,38.68 L77.17,38.95 L77.21,39.22 L77.25,39.49 L77.29,39.75 L77.33,40.02 L77.37,40.28 L77.41,40.54 L77.45,40.80 L77.49,41.05 L77.53,41.31 L77.57,41.57 L77.61,41.82 L77.65,42.07 L77.69,42.32 L77.73,42.57 L77.77,42.82 L77.81,43.07 L77.85,43.32 L77.89,43.56 L77.93,43.80 L77.97,44.05 L78.01,44.29 L78.05,44.53 L78.09,44.77 L78.13,45.00 L78.17,45.24 L78.21,45.48 L78.25,45.71 L78.29,45.94 L78.33,46.18 L78.37,46.41 L78.41,46.64 L78.45,46.87 L78.49,47.10 L78.53,47.32 L78.57,47.55 L78.61,47.77 L78.65,48.00 L78.69,48.22 L78.73,48.44 L78.77,48.66 L78.81,48.88 L78.85,49.10 L78.89,49.32 L78.93,49.54 L78.97,49.76 L79.01,49.97 L79.05,50.19 L79.09,50.40 L79.13,50.61 L79.17,50.82 L79.21,51.04 L79.25,51.25 L79.29,51.46 L79.33,51.66 L79.37,51.87 L79.41,52.08 L79.45,52.29 L79.49,52.49 L79.53,52.70 L79.57,52.90 L79.61,53.10 L79.65,53.31 L79.69,53.51 L79.73,53.71 L79.77,53.91 L79.81,54.11 L79.85,54.31 L79.89,54.50 L79.93,54.70 L79.97,54.90 L80.01,55.09 L80.05,55.29 L80.09,55.48 L80.13,55.67 L80.17,55.87 L80.21,56.06 L80.25,56.25 L80.29,56.44 L80.33,56.63 L80.37,56.82 L80.41,57.01 L80.45,57.20 L80.49,57.39 L80.53,57.57 L80.57,57.76 L80.61,57.94 L80.65,58.13 L80.69,58.31 L80.73,58.50 L80.77,58.68 L80.81,58.86 L80.85,59.04 L80.89,59.23 L80.93,59.41 L80.97,59.59 L81.01,59.77 L81.05,59.94 L81.09,60.12 L81.13,60.30 L81.17,60.48 L81.21,60.65 L81.25,60.83 L81.29,61.01 L81.33,61.18 L81.37,61.35 L81.41,61.53 L81.45,61.70 L81.49,61.87 L81.53,62.05 L81.57,62.22 L81.61,62.39 L81.65,62.56 L81.69,62.73 L81.73,62.90 L81.77,63.07 L81.81,63.24 L81.85,63.41 L81.89,63.57 L81.93,63.74 L81.97,63.91 L82.01,64.07 L82.05,64.24 L82.09,64.40 L82.13,64.57 L82.17,64.73 L82.21,64.90 L82.25,65.06 L82.29,65.22 L82.33,65.38 L82.37,65.54 L82.41,65.71 L82.45,65.87 L82.49,66.03 L82.53,66.19 L82.57,66.35 L82.61,66.51 L82.65,66.66 L82.69,66.82 L82.73,66.98 L82.77,67.14 L82.81,67.29 L82.85,67.45 L82.89,67.61 L82.93,67.76 L82.97,67.92 L83.01,68.07 L83.05,68.23 L83.09,68.38 L83.13,68.53 L83.17,68.69 L83.21,68.84 L83.25,68.99 L83.29,69.14 L83.33,69.29 L83.37,69.45 L83.41,69.60 L83.45,69.75 L83.49,69.90 L83.53,70.05 L83.57,70.19 L83.61,70.34 L83.65,70.49 L83.69,70.64 L83.73,70.79 L83.77,70.93 L83.81,71.08 L83.85,71.23 L83.89,71.37 L83.93,71.52 L83.97,71.66 L84.01,71.81 L84.05,71.95 L84.09,72.10 L84.13,72.24 L84.17,72.39 L84.21,72.53 L84.25,72.67 L84.29,72.81 L84.33,72.96 L84.37,73.10 L84.41,73.24 L84.45,73.38 L84.49,73.52 L84.53,73.66 L84.57,73.80 L84.61,73.94 L84.65,74.08 L84.69,74.22 L84.73,74.36 L84.77,74.50 L84.81,74.63 L84.85,74.77 L84.89,74.91 L84.93,75.05 L84.97,75.18 L85.01,75.32 L85.05,75.45 L85.09,75.59 L85.13,75.73 L85.17,75.86 L85.21,76.00 L85.25,76.13 L85.29,76.26 L85.33,76.40 L85.37,76.53 L85.41,76.67 L85.45,76.80 L85.49,76.93 L85.53,77.06 L85.57,77.20 L85.61,77.33 L85.65,77.46 L85.69,77.59 L85.73,77.72 L85.77,77.85 L85.81,77.98 L85.85,78.11 L85.89,78.24 L85.93,78.37 L85.97,78.50 L86.01,78.63 L86.05,78.76 L86.09,78.89 L86.13,79.01 L86.17,79.14 L86.21,79.27 L86.25,79.40 L86.29,79.52 L86.33,79.65 L86.37,79.78 L86.41,79.90 L86.45,80.03 L86.49,80.15 L86.53,80.28 L86.57,80.40 L86.61,80.53 L86.65,80.65 L86.69,80.78 L86.73,80.90 L86.77,81.03 L86.81,81.15 L86.85,81.27 L86.89,81.40 L86.93,81.52 L86.97,81.64 L87.01,81.76 L87.05,81.89 L87.09,82.01 L87.13,82.13 L87.17,82.25 L87.21,82.37 L87.25,82.49 L87.29,82.61 L87.33,82.73 L87.37,82.85 L87.41,82.97 L87.45,83.09 L87.49,83.21 L87.53,83.33 L87.57,83.45 L87.61,83.57 L87.65,83.69 L87.69,83.80 L87.73,83.92 L87.77,84.04 L87.81,84.16 L87.85,84.27 L87.89,84.39 L87.93,84.51 L87.97,84.62 L88.01,84.74 L88.05,84.86 L88.09,84.97 L88.13,85.09 L88.17,85.20 L88.21,85.32 L88.25,85.43 L88.29,85.55 L88.33,85.66 L88.37,85.78 L88.41,85.89 L88.45,86.00 L88.49,86.12 L88.53,86.23 L88.57,86.34 L88.61,86.46 L88.65,86.57 L88.69,86.68 L88.73,86.80 L88.77,86.91 L88.81,87.02 L88.85,87.13 L88.89,87.24 L88.93,87.35 L88.97,87.47 L89.01,87.58 L89.05,87.69 L89.09,87.80 L89.13,87.91 L89.17,88.02 L89.21,88.13 L89.25,88.24 L89.29,88.35 L89.33,88.46 L89.37,88.56 L89.41,88.67 L89.45,88.78 L89.49,88.89 L89.53,89.00 L89.57,89.11 L89.61,89.22 L89.65,89.32 L89.69,89.43 L89.73,89.54 L89.77,89.64 L89.81,89.75 L89.85,89.86 L89.89,89.97 L89.93,90.07 L89.97,90.18 L90.01,90.28 L90.05,90.39 L90.09,90.50 L90.13,90.60 L90.17,90.71 L90.21,90.81 L90.25,90.92 L90.29,91.02 L90.33,91.13 L90.37,91.23 L90.41,91.33 L90.45,91.44 L90.49,91.54 L90.53,91.65 L90.57,91.75 L90.61,91.85 L90.65,91.95 L90.69,92.06 L90.73,92.16 L90.77,92.26 L90.81,92.37 L90.85,92.47 L90.89,92.57 L90.93,92.67 L90.97,92.77 L91.01,92.88 L91.05,92.98 L91.09,93.08 L91.13,93.18 L91.17,93.28 L91.21,93.38 L91.25,93.48 L91.29,93.58 L91.33,93.68 L91.37,93.78 L91.41,93.88 L91.45,93.98 L91.49,94.08 L91.53,94.18 L91.57,94.28 L91.61,94.38 L91.65,94.48 L91.69,94.58 L91.73,94.67 L91.77,94.77 L91.81,94.87 L91.85,94.97 L91.89,95.07 L91.93,95.17 L91.97,95.26 L92.01,95.36 L92.05,95.46 L92.09,95.56 L92.13,95.65 L92.17,95.75 L92.21,95.85 L92.25,95.94 L92.29,96.04 L92.33,96.13 L92.37,96.23 L92.41,96.33 L92.45,96.42 L92.49,96.52 L92.53,96.61 L92.57,96.71 L93.20,98.19 L93.83,99.64 L94.45,101.05 L95.08,102.43 L95.71,103.78 L96.34,105.10 L96.97,106.40 L97.60,107.66 L98.23,108.91 L98.86,110.12 L99.49,111.32 L100.12,112.49 L100.74,113.64 L101.37,114.77 L102.00,115.88 L102.63,116.97 L103.26,118.04 L103.89,119.10 L104.52,120.14 L105.15,121.16 L105.78,122.16 L106.40,123.15 L107.03,124.12 L107.66,125.08 L108.29,126.03 L108.92,126.96 L109.55,127.88 L110.18,128.78 L110.81,129.67 L111.44,130.55 L112.06,131.42 L112.69,132.28 L113.32,133.13 L113.95,133.96 L114.58,134.78 L115.21,135.60 L115.84,136.40 L116.47,137.20 L117.10,137.98 L117.72,138.76 L118.35,139.52 L118.98,140.28 L119.61,141.03 L120.24,141.77 L120.87,142.50 L121.50,143.23 L122.13,143.95 L122.76,144.65 L123.39,145.36 L124.01,146.05 L124.64,146.74 L125.27,147.42 L125.90,148.09 L126.53,148.76 L127.16,149.42 L127.79,150.07 L128.42,150.72 L129.05,151.36 L129.67,152.00 L130.30,152.63 L130.93,153.25 L131.56,153.87 L132.19,154.48 L132.82,155.09 L133.45,155.69 L134.08,156.29 L134.71,156.88 L135.33,157.47 L135.96,158.05 L136.59,158.63 L137.22,159.20 L137.85,159.77 L138.48,160.33 L139.11,160.89 L139.74,161.44 L140.37,161.99 L140.99,162.54 L141.62,163.08 L142.25,163.62 L142.88,164.15 L143.51,164.68 L144.14,165.21 L144.77,165.73 L145.40,166.25 L146.03,166.76 L146.66,167.27 L147.28,167.78 L147.91,168.28 L148.54,168.78 L149.17,169.28 L149.80,169.77 L150.43,170.26 L151.06,170.75 L151.69,171.23 L152.32,171.71 L152.94,172.19 L153.57,172.66 L154.20,173.13 L154.83,173.60 L155.46,174.06 L156.09,174.53 L156.72,174.98 L157.35,175.44 L157.98,175.89 L158.60,176.35 L159.23,176.79 L159.86,177.24 L160.49,177.68 L161.12,178.12 L161.75,178.56 L162.38,179.00 L163.01,179.43 L163.64,179.86 L164.26,180.29 L164.89,180.71 L165.52,181.14 L166.15,181.56 L166.78,181.97 L167.41,182.39 L168.04,182.81 L168.67,183.22 L169.30,183.63 L169.92,184.03 L170.55,184.44 L171.18,184.84 L171.81,185.24 L172.44,185.64 L173.07,186.04 L173.70,186.44 L174.33,186.83 L174.96,187.22 L175.59,187.61 L176.21,188.00 L176.84,188.38 L177.47,188.77 L178.10,189.15 L178.73,189.53 L179.36,189.91 L179.99,190.28 L180.62,190.66 L181.25,191.03 L181.87,191.40 L182.50,191.77 L183.13,192.14 L183.76,192.51 L184.39,192.87 L185.02,193.23 L185.65,193.60 L186.28,193.96 L186.91,194.31 L187.53,194.67 L188.16,195.03 L188.79,195.38 L189.42,195.73 L190.05,196.08 L190.68,196.43 L191.31,196.78 L191.94,197.13 L192.57,197.47 L193.19,197.81 L193.82,198.16 L194.45,198.50 L195.08,198.84 L195.71,199.17 L196.34,199.51 L196.97,199.85 L197.60,200.18 L198.23,200.51 L198.86,200.84 L199.48,201.17 L200.11,201.50 L200.74,201.83 L201.37,202.16 L202.00,202.48 L202.63,202.81 L203.26,203.13 L203.89,203.45 L204.52,203.77 L205.14,204.09 L205.77,204.41 L206.40,204.72 L207.03,205.04 L207.66,205.35 L208.29,205.67 L208.92,205.98 L209.55,206.29 L210.18,206.60 L210.80,206.91 L211.43,207.22 L212.06,207.52 L212.69,207.83 L213.32,208.13 L213.95,208.44 L214.58,208.74 L215.21,209.04 L215.84,209.34 L216.46,209.64 L217.09,209.94 L217.72,210.24 L218.35,210.53 L218.98,210.83 L219.61,211.12 L220.24,211.42 L220.87,211.71 L221.50,212.00 L222.13,212.29 L222.75,212.58 L223.38,212.87 L224.01,213.16 L224.64,213.45 L225.27,213.73 L225.90,214.02 L226.53,214.30 L227.16,214.59 L227.79,214.87 L228.41,215.15 L229.04,215.43 L229.67,215.71 L230.30,215.99 L230.93,216.27 L231.56,216.55 L232.19,216.82 L232.82,217.10 L233.45,217.37 L234.07,217.65 L234.70,217.92 L235.33,218.19 L235.96,218.47 L236.59,218.74 L237.22,219.01 L237.85,219.28 L238.48,219.55 L239.11,219.81 L239.73,220.08 L240.36,220.35 L240.99,220.61 L241.62,220.88 L242.25,221.14 L242.88,221.40 L243.51,221.67 L244.14,221.93 L244.77,222.19 L245.40,222.45 L246.02,222.71 L246.65,222.97 L247.28,223.23 L247.91,223.49 L248.54,223.74 L249.17,224.00 L249.80,224.25 L250.43,224.51 L251.06,224.76 L251.68,225.02 L252.31,225.27 L252.94,225.52 L253.57,225.77 L254.20,226.02 L254.83,226.27 L255.46,226.52 L256.09,226.77 L256.72,227.02 L257.34,227.27 L257.97,227.51 L258.60,227.76 L259.23,228.00 L259.86,228.25 L260.49,228.49 L261.12,228.74 L261.75,228.98 L262.38,229.22 L263.00,229.46 L263.63,229.70 L264.26,229.95 L264.89,230.18 L265.52,230.42 L266.15,230.66 L266.78,230.90 L267.41,231.14 L268.04,231.37 L268.67,231.61 L269.29,231.85 L269.92,232.08 L270.55,232.32 L271.18,232.55 L271.81,232.78 L272.44,233.02 L273.07,233.25 L273.70,233.48 L274.33,233.71 L274.95,233.94 L275.58,234.17 L276.21,234.40 L276.84,234.63 L277.47,234.86 L278.10,235.09 L278.73,235.31 L279.36,235.54 L279.99,235.76 L280.61,235.99 L281.24,236.22 L281.87,236.44 L282.50,236.66 L283.13,236.89 L283.76,237.11 L284.39,237.33 L285.02,237.55 L285.65,237.77 L286.27,238.00 L286.90,238.22 L287.53,238.43 L288.16,238.65 L288.79,238.87 L289.42,239.09 L290.05,239.31 L290.68,239.53 L291.31,239.74 L291.94,239.96 L292.56,240.17 L293.19,240.39 L293.82,240.60 L294.45,240.82 L295.08,241.03 L295.71,241.24 L296.34,241.46 L296.97,241.67 L297.60,241.88 L298.22,242.09 L298.85,242.30 L299.48,242.51 L300.11,242.72 L300.74,242.93 L301.37,243.14 L302.00,243.35 L302.63,243.55 L303.26,243.76 L303.88,243.97 L304.51,244.17 L305.14,244.38 L305.77,244.58 L306.40,244.79 L307.03,244.99 L307.66,245.20 L308.29,245.40 L308.92,245.60 L309.54,245.81 L310.17,246.01 L310.80,246.21 L311.43,246.41 L312.06,246.61 L312.69,246.81 L313.32,247.01 L313.95,247.21 L314.58,247.41 L315.21,247.61 L315.83,247.80 L316.46,248.00 L317.09,248.20 L317.72,248.39 L318.35,248.59 L318.98,248.79 L319.61,248.98 L320.24,249.18 L320.87,249.37 L321.49,249.56 L322.12,249.76 L322.75,249.95 L323.38,250.14 L324.01,250.33 L324.64,250.53 L325.27,250.72 L325.90,250.91 L326.53,251.10 L327.15,251.29 L327.78,251.48 L328.41,251.67 L329.04,251.85 L329.67,252.04 L330.30,252.23 L330.93,252.42 L331.56,252.60 L332.19,252.79 L332.81,252.98 L333.44,253.16 L334.07,253.35 L334.70,253.53 L335.33,253.71 L335.96,253.90 L336.59,254.08 L337.22,254.26 L337.85,254.45 L338.48,254.63 L339.10,254.81 L339.73,254.99 L340.36,255.17 L340.99,255.35 L341.62,255.53 L342.25,255.71 L342.88,255.89 L343.51,256.07 L344.14,256.25 L344.76,256.43 L345.39,256.60 L346.02,256.78 L346.65,256.96 L347.28,257.13 L347.91,257.31 L348.54,257.48 L349.17,257.66 L349.80,257.83 L350.42,258.01 L351.05,258.18 L351.68,258.35 L352.31,258.53 L352.94,258.70 L353.57,258.87 L354.20,259.04 L354.83,259.21 L355.46,259.38 L356.08,259.55 L356.71,259.72 L357.34,259.89 L357.97,260.06 L358.60,260.23 L359.23,260.40 L359.86,260.57 L360.49,260.74 L361.12,260.90 L361.75,261.07 L362.37,261.24 L363.00,261.40 L363.63,261.57 L364.26,261.73 L364.89,261.90 L365.52,262.06 L366.15,262.22 L366.78,262.39 L367.41,262.55 L368.03,262.71 L368.66,262.88 L369.29,263.04 L369.92,263.20 L370.55,263.36 L371.18,263.52 L371.81,263.68 L372.44,263.84 L373.07,264.00 L373.69,264.16 L374.32,264.32 L374.95,264.48 L375.58,264.63 L376.21,264.79 L376.84,264.95 L377.47,265.10 L378.10,265.26 L378.73,265.42 L379.35,265.57 L379.98,265.73 L380.61,265.88 L381.24,266.04 L381.87,266.19 L382.50,266.34 L383.13,266.50 L383.76,266.65 L384.39,266.80 L385.02,266.95 L385.64,267.10 L386.27,267.25 L386.90,267.40 L387.53,267.55 L388.16,267.70 L388.79,267.85 L389.42,268.00 L390.05,268.15 L390.68,268.30 L391.30,268.45 L391.93,268.59 L392.56,268.74 L393.19,268.89 L393.82,269.03 L394.45,269.18 L395.08,269.33 L395.71,269.47 L396.34,269.61 L396.96,269.76 L397.59,269.90 L398.22,270.05 L398.85,270.19 L399.48,270.33 L400.11,270.47 L400.74,270.62 L401.37,270.76 L402.00,270.90 L402.62,271.04 L403.25,271.18 L403.88,271.32 L404.51,271.46 L405.14,271.60 L405.77,271.73 L406.40,271.87" fill="none" stroke="#ff0000" stroke-width="2"/>
<path d="M81.01,4.27 L81.05,4.60 L81.09,4.92 L81.13,5.24 L81.17,5.56 L81.21,5.87 L81.25,6.19 L81.29,6.50 L81.33,6.81 L81.37,7.13 L81.41,7.44 L81.45,7.74 L81.49,8.05 L81.53,8.36 L81.57,8.66 L81.61,8.96 L81.65,9.27 L81.69,9.57 L81.73,9.87 L81.77,10.16 L81.81,10.46 L81.85,10.76 L81.89,11.05 L81.93,11.34 L81.97,11.64 L82.01,11.93 L82.05,12.22 L82.09,12.50 L82.13,12.79 L82.17,13.08 L82.21,13.36 L82.25,13.64 L82.29,13.93 L82.33,14.21 L82.37,14.49 L82.41,14.77 L82.45,15.05 L82.49,15.32 L82.53,15.60 L82.57,15.87 L82.61,16.15 L82.65,16.42 L82.69,16.69 L82.73,16.96 L82.77,17.23 L82.81,17.50 L82.85,17.77 L82.89,18.03 L82.93,18.30 L82.97,18.56 L83.01,18.83 L83.05,19.09 L83.09,19.35 L83.13,19.61 L83.17,19.87 L83.21,20.13 L83.25,20.39 L83.29,20.64 L83.33,20.90 L83.37,21.15 L83.41,21.41 L83.45,21.66 L83.49,21.91 L83.53,22.16 L83.57,22.41 L83.61,22.66 L83.65,22.91 L83.69,23.16 L83.73,23.41 L83.77,23.65 L83.81,23.90 L83.85,24.14 L83.89,24.39 L83.93,24.63 L83.97,24.87 L84.01,25.11 L84.05,25.35 L84.09,25.59 L84.13,25.83 L84.17,26.07 L84.21,26.30 L84.25,26.54 L84.29,26.77 L84.33,27.01 L84.37,27.24 L84.41,27.48 L84.45,27.71 L84.49,27.94 L84.53,28.17 L84.57,28.40 L84.61,28.63 L84.65,28.86 L84.69,29.09 L84.73,29.31 L84.77,29.54 L84.81,29.77 L84.85,29.99 L84.89,30.21 L84.93,30.44 L84.97,30.66 L85.01,30.88 L85.05,31.10 L85.09,31.33 L85.13,31.55 L85.17,31.77 L85.21,31.98 L85.25,32.20 L85.29,32.42 L85.33,32.64 L85.37,32.85 L85.41,33.07 L85.45,33.28 L85.49,33.50 L85.53,33.71 L85.57,33.92 L85.61,34.13 L85.65,34.35 L85.69,34.56 L85.73,34.77 L85.77,34.98 L85.81,35.19 L85.85,35.40 L85.89,35.60 L85.93,35.81 L85.97,36.02 L86.01,36.22 L86.05,36.43 L86.09,36.63 L86.13,36.84 L86.17,37.04 L86.21,37.25 L86.25,37.45 L86.29,37.65 L86.33,37.85 L86.37,38.05 L86.41,38.25 L86.45,38.45 L86.49,38.65 L86.53,38.85 L86.57,39.05 L86.61,39.25 L86.65,39.44 L86.69,39.64 L86.73,39.84 L86.77,40.03 L86.81,40.23 L86.85,40.42 L86.89,40.61 L86.93,40.81 L86.97,41.00 L87.01,41.19 L87.05,41.38 L87.09,41.58 L87.13,41.77 L87.17,41.96 L87.21,42.15 L87.25,42.34 L87.29,42.52 L87.33,42.71 L87.37,42.90 L87.41,43.09 L87.45,43.27 L87.49,43.46 L87.53,43.65 L87.57,43.83 L87.61,44.02 L87.65,44.20 L87.69,44.39 L87.73,44.57 L87.77,44.75 L87.81,44.93 L87.85,45.12 L87.89,45.30 L87.93,45.48 L87.97,45.66 L88.01,45.84 L88.05,46.02 L88.09,46.20 L88.13,46.38 L88.17,46.56 L88.21,46.73 L88.25,46.91 L88.29,47.09 L88.33,47.27 L88.37,47.44 L88.41,47.62 L88.45,47.79 L88.49,47.97 L88.53,48.14 L88.57,48.32 L88.61,48.49 L88.65,48.67 L88.69,48.84 L88.73,49.01 L88.77,49.18 L88.81,49.35 L88.85,49.53 L88.89,49.70 L88.93,49.87 L88.97,50.04 L89.01,50.21 L89.05,50.38 L89.09,50.55 L89.13,50.71 L89.17,50.88 L89.21,51.05 L89.25,51.22 L89.29,51.38 L89.33,51.55 L89.37,51.72 L89.41,51.88 L89.45,52.05 L89.49,52.21 L89.53,52.38 L89.57,52.54 L89.61,52.71 L89.65,52.87 L89.69,53.03 L89.73,53.20 L89.77,53.36 L89.81,53.52 L89.85,53.68 L89.89,53.84 L89.93,54.00 L89.97,54.17 L90.01,54.33 L90.05,54.49 L90.09,54.65 L90.13,54.80 L90.17,54.96 L90.21,55.12 L90.25,55.28 L90.29,55.44 L90.33,55.60 L90.37,55.75 L90.41,55.91 L90.45,56.07 L90.49,56.22 L90.53,56.38 L90.57,56.53 L90.61,56.69 L90.65,56.84 L90.69,57.00 L90.73,57.15 L90.77,57.31 L90.81,57.46 L90.85,57.61 L90.89,57.77 L90.93,57.92 L90.97,58.07 L91.01,58.22 L91.05,58.38 L91.09,58.53 L91.13,58.68 L91.17,58.83 L91.21,58.98 L91.25,59.13 L91.29,59.28 L91.33,59.43 L91.37,59.58 L91.41,59.73 L91.45,59.88 L91.49,60.02 L91.53,60.17 L91.57,60.32 L91.61,60.47 L91.65,60.61 L91.69,60.76 L91.73,60.91 L91.77,61.05 L91.81,61.20 L91.85,61.35 L91.89,61.49 L91.93,61.64 L91.97,61.78 L92.01,61.93 L92.05,62.07 L92.09,62.21 L92.13,62.36 L92.17,62.50 L92.21,62.64 L92.25,62.79 L92.29,62.93 L92.33,63.07 L92.37,63.21 L92.41,63.35 L92.45,63.50 L92.49,63.64 L92.53,63.78 L92.57,63.92 L93.20,66.10 L93.83,68.21 L94.45,70.27 L95.08,72.27 L95.71,74.22 L96.34,76.11 L96.97,77.97 L97.60,79.77 L98.23,81.54 L98.86,83.26 L99.49,84.94 L100.12,86.59 L100.74,88.20 L101.37,89.78 L102.00,91.33 L102.63,92.84 L103.26,94.33 L103.89,95.78 L104.52,97.21 L105.15,98.62 L105.78,99.99 L106.40,101.35 L107.03,102.68 L107.66,103.98 L108.29,105.27 L108.92,106.53 L109.55,107.77 L110.18,109.00 L110.81,110.20 L111.44,111.39 L112.06,112.55 L112.69,113.70 L113.32,114.84 L113.95,115.95 L114.58,117.05 L115.21,118.14 L115.84,119.21 L116.47,120.27 L117.10,121.31 L117.72,122.33 L118.35,123.35 L118.98,124.35 L119.61,125.34 L120.24,126.31 L120.87,127.28 L121.50,128.23 L122.13,129.17 L122.76,130.10 L123.39,131.01 L124.01,131.92 L124.64,132.82 L125.27,133.70 L125.90,134.58 L126.53,135.45 L127.16,136.30 L127.79,137.15 L128.42,137.99 L129.05,138.82 L129.67,139.64 L130.30,140.45 L130.93,141.25 L131.56,142.05 L132.19,142.84 L132.82,143.61 L133.45,144.39 L134.08,145.15 L134.71,145.91 L135.33,146.66 L135.96,147.40 L136.59,148.13 L137.22,148.86 L137.85,149.58 L138.48,150.29 L139.11,151.00 L139.74,151.70 L140.37,152.40 L140.99,153.09 L141.62,153.77 L142.25,154.45 L142.88,155.12 L143.51,155.78 L144.14,156.44 L144.77,157.09 L145.40,157.74 L146.03,158.38 L146.66,159.02 L147.28,159.65 L147.91,160.28 L148.54,160.90 L149.17,161.52 L149.80,162.13 L150.43,162.74 L151.06,163.34 L151.69,163.93 L152.32,164.53 L152.94,165.11 L153.57,165.70 L154.20,166.28 L154.83,166.85 L155.46,167.42 L156.09,167.99 L156.72,168.55 L157.35,169.11 L157.98,169.66 L158.60,170.21 L159.23,170.75 L159.86,171.30 L160.49,171.83 L161.12,172.37 L161.75,172.90 L162.38,173.42 L163.01,173.95 L163.64,174.46 L164.26,174.98 L164.89,175.49 L165.52,176.00 L166.15,176.50 L166.78,177.00 L167.41,177.50 L168.04,178.00 L168.67,178.49 L169.30,178.98 L169.92,179.46 L170.55,179.94 L171.18,180.42 L171.81,180.90 L172.44,181.37 L173.07,181.84 L173.70,182.30 L174.33,182.77 L174.96,183.23 L175.59,183.69 L176.21,184.14 L176.84,184.59 L177.47,185.04 L178.10,185.49 L178.73,185.93 L179.36,186.37 L179.99,186.81 L180.62,187.25 L181.25,187.68 L181.87,188.11 L182.50,188.54 L183.13,188.96 L183.76,189.39 L184.39,189.81 L185.02,190.23 L185.65,190.64 L186.28,191.05 L186.91,191.46 L187.53,191.87 L188.16,192.28 L188.79,192.68 L189.42,193.08 L190.05,193.48 L190.68,193.88 L191.31,194.28 L191.94,194.67 L192.57,195.06 L193.19,195.45 L193.82,195.83 L194.45,196.22 L195.08,196.60 L195.71,196.98 L196.34,197.36 L196.97,197.73 L197.60,198.11 L198.23,198.48 L198.86,198.85 L199.48,199.22 L200.11,199.59 L200.74,199.95 L201.37,200.31 L202.00,200.67 L202.63,201.03 L203.26,201.39 L203.89,201.74 L204.52,202.10 L205.14,202.45 L205.77,202.80 L206.40,203.15 L207.03,203.49 L207.66,203.84 L208.29,204.18 L208.92,204.52 L209.55,204.86 L210.18,205.20 L210.80,205.54 L211.43,205.87 L212.06,206.20 L212.69,206.54 L213.32,206.87 L213.95,207.19 L214.58,207.52 L215.21,207.85 L215.84,208.17 L216.46,208.49 L217.09,208.81 L217.72,209.13 L218.35,209.45 L218.98,209.77 L219.61,210.08 L220.24,210.40 L220.87,210.71 L221.50,211.02 L222.13,211.33 L222.75,211.64 L223.38,211.94 L224.01,212.25 L224.64,212.55 L225.27,212.86 L225.90,213.16 L226.53,213.46 L227.16,213.76 L227.79,214.05 L228.41,214.35 L229.04,214.65 L229.67,214.94 L230.30,215.23 L230.93,215.52 L231.56,215.81 L232.19,216.10 L232.82,216.39 L233.45,216.68 L234.07,216.96 L234.70,217.25 L235.33,217.53 L235.96,217.81 L236.59,218.09 L237.22,218.37 L237.85,218.65 L238.48,218.93 L239.11,219.21 L239.73,219.48 L240.36,219.76 L240.99,220.03 L241.62,220.30 L242.25,220.57 L242.88,220.84 L243.51,221.11 L244.14,221.38 L244.77,221.65 L245.40,221.91 L246.02,222.18 L246.65,222.44 L247.28,222.71 L247.91,222.97 L248.54,223.23 L249.17,223.49 L249.80,223.75 L250.43,224.01 L251.06,224.27 L251.68,224.52 L252.31,224.78 L252.94,225.03 L253.57,225.29 L254.20,225.54 L254.83,225.79 L255.46,226.04 L256.09,226.29 L256.72,226.54 L257.34,226.79 L257.97,227.04 L258.60,227.29 L259.23,227.54 L259.86,227.78 L260.49,228.03 L261.12,228.27 L261.75,228.51 L262.38,228.76 L263.00,229.00 L263.63,229.24 L264.26,229.48 L264.89,229.72 L265.52,229.96 L266.15,230.20 L266.78,230.43 L267.41,230.67 L268.04,230.91 L268.67,231.14 L269.29,231.38 L269.92,231.61 L270.55,231.84 L271.18,232.08 L271.81,232.31 L272.44,232.54 L273.07,232.77 L273.70,233.00 L274.33,233.23 L274.95,233.46 L275.58,233.69 L276.21,233.91 L276.84,234.14 L277.47,234.37 L278.10,234.59 L278.73,234.82 L279.36,235.04 L279.99,235.26 L280.61,235.49 L281.24,235.71 L281.87,235.93 L282.50,236.15 L283.13,236.38 L283.76,236.60 L284.39,236.82 L285.02,237.04 L285.65,237.25 L286.27,237.47 L286.90,237.69 L287.53,237.91 L288.16,238.12 L288.79,238.34 L289.42,238.56 L290.05,238.77 L290.68,238.99 L291.31,239.20 L291.94,239.41 L292.56,239.63 L293.19,239.84 L293.82,240.05 L294.45,240.27 L295.08,240.48 L295.71,240.69 L296.34,240.90 L296.97,241.11 L297.60,241.32 L298.22,241.53 L298.85,241.74 L299.48,241.95 L300.11,242.16 L300.74,242.36 L301.37,242.57 L302.00,242.78 L302.63,242.99 L303.26,243.19 L303.88,243.40 L304.51,243.60 L305.14,243.81 L305.77,244.01 L306.40,244.22 L307.03,244.42 L307.66,244.63 L308.29,244.83 L308.92,245.03 L309.54,245.24 L310.17,245.44 L310.80,245.64 L311.43,245.84 L312.06,246.05 L312.69,246.25 L313.32,246.45 L313.95,246.65 L314.58,246.85 L315.21,247.05 L315.83,247.25 L316.46,247.45 L317.09,247.65 L317.72,247.85 L318.35,248.05 L318.98,248.25 L319.61,248.44 L320.24,248.64 L320.87,248.84 L321.49,249.04 L322.12,249.24 L322.75,249.43 L323.38,249.63 L324.01,249.83 L324.64,250.02 L325.27,250.22 L325.90,250.42 L326.53,250.61 L327.15,250.81 L327.78,251.01 L328.41,251.20 L329.04,251.40 L329.67,251.59 L330.30,251.79 L330.93,251.98 L331.56,252.18 L332.19,252.37 L332.81,252.57 L333.44,252.76 L334.07,252.95 L334.70,253.15 L335.33,253.34 L335.96,253.54 L336.59,253.73 L337.22,253.92 L337.85,254.12 L338.48,254.31 L339.10,254.50 L339.73,254.70 L340.36,254.89 L340.99,255.08 L341.62,255.28 L342.25,255.47 L342.88,255.66 L343.51,255.85 L344.14,256.05 L344.76,256.24 L345.39,256.43 L346.02,256.62 L346.65,256.82 L347.28,257.01 L347.91,257.20 L348.54,257.39 L349.17,257.58 L349.80,257.78 L350.42,257.97 L351.05,258.16 L351.68,258.35 L352.31,258.55 L352.94,258.74 L353.57,258.93 L354.20,259.12 L354.83,259.31 L355.46,259.51 L356.08,259.70 L356.71,259.89 L357.34,260.08 L357.97,260.27 L358.60,260.47 L359.23,260.66 L359.86,260.85 L360.49,261.04 L361.12,261.23 L361.75,261.43 L362.37,261.62 L363.00,261.81 L363.63,262.00 L364.26,262.20 L364.89,262.39 L365.52,262.58 L366.15,262.77 L366.78,262.97 L367.41,263.16 L368.03,263.35 L368.66,263.55 L369.29,263.74 L369.92,263.93 L370.55,264.13 L371.18,264.32 L371.81,264.51 L372.44,264.71 L373.07,264.90 L373.69,265.09 L374.32,265.29 L374.95,265.48 L375.58,265.68 L376.21,265.87 L376.84,266.06 L377.47,266.26 L378.10,266.45 L378.73,266.65 L379.35,266.84 L379.98,267.04 L380.61,267.23 L381.24,267.43 L381.87,267.62 L382.50,267.82 L383.13,268.02 L383.76,268.21 L384.39,268.41 L385.02,268.61 L385.64,268.80 L386.27,269.00 L386.90,269.20 L387.53,269.39 L388.16,269.59 L388.79,269.79 L389.42,269.99 L390.05,270.18 L390.68,270.38 L391.30,270.58 L391.93,270.78 L392.56,270.98 L393.19,271.18 L393.82,271.38 L394.45,271.58 L395.08,271.78 L395.71,271.98 L396.34,272.18 L396.96,272.38 L397.59,272.58 L398.22,272.78 L398.85,272.98 L399.48,273.18 L400.11,273.38 L400.74,273.59 L401.37,273.79 L402.00,273.99 L402.62,274.19 L403.25,274.40 L403.88,274.60 L404.51,274.81 L405.14,275.01 L405.77,275.21 L406.40,275.42" fill="none" stroke="#ff8000" stroke-width="2" stroke-dasharray="35.5 4.5" stroke-dashoffset="34.70"/>
</g>
<g font-size="19.2px">
<text x="68.7" y="257.39" text-anchor="end" transform="rotate(0.05 68.7 257.39)">0.5</text>
<text x="68.7" y="223.40" text-anchor="end" transform="rotate(0.05 68.7 223.40)">1.0</text>
<text x="68.7" y="144.49" text-anchor="end" transform="rotate(0.05 68.7 144.49)">5.0</text>
<text x="68.7" y="110.50" text-anchor="end" transform="rotate(0.05 68.7 110.50)">10.0</text>
<text x="68.7" y="31.59" text-anchor="end" transform="rotate(0.05 68.7 31.59)">50.0</text>
<text x="72.60" y="295.3" text-anchor="middle" transform="rotate(0.05 72.60 295.3)">0</text>
<text x="139.16" y="295.3" text-anchor="middle" transform="rotate(0.05 139.16 295.3)">2</text>
<text x="205.72" y="295.3" text-anchor="middle" transform="rotate(0.05 205.72 295.3)">4</text>
<text x="272.28" y="295.3" text-anchor="middle" transform="rotate(0.05 272.28 295.3)">6</text>
<text x="338.84" y="295.3" text-anchor="middle" transform="rotate(0.05 338.84 295.3)">8</text>
<text x="405.40" y="295.3" text-anchor="middle" transform="rotate(0.05 405.40 295.3)">10</text>
</g>
<text x="238.9" y="323.6" font-size="19.2px" text-anchor="middle" transform="rotate(0.02 238.9 323.6)">Distance from galactic center (kpc)</text>
<g transform="translate(19.5,0) rotate(-90)" font-size="19.2px">
<text x="-206.2" y="0" font-size="20.8px" font-style="italic" textLength="11.2" lengthAdjust="spacingAndGlyphs">ρ</text>
<text x="-195.4" y="4.4" font-size="14.6px" letter-spacing="0.1">DM</text>
<text x="-168.4" y="0" letter-spacing="0.45">(GeV/cm</text>
<text x="-96.0" y="-7.3" font-size="13.8px">3</text>
<text x="-89.0" y="0">)</text>
</g>
</svg>
</body></html>
